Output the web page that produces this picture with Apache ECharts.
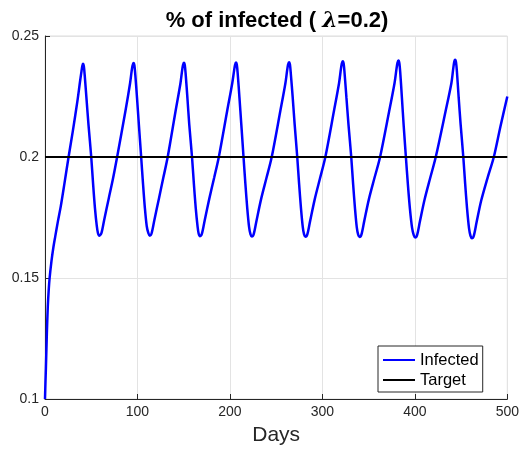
<!DOCTYPE html>
<html>
<head>
<meta charset="utf-8">
<script src="https://cdn.jsdelivr.net/npm/echarts@6/dist/echarts.min.js"></script>
<style>html,body{margin:0;padding:0;background:#fff;}#c{width:522px;height:451px;}</style>
</head>
<body>
<div id="c"></div>
<script>
var xTicks = [0, 100, 200, 300, 400, 500];
var yTicks = [0.1, 0.15, 0.2, 0.25];
var targetLevel = 0.2;
var targetDays = [0, 500];
var infected = [
[0,0.1],[0.5,0.107],[1,0.113],[2,0.127],[3,0.138],[4,0.145],[5,0.15],[7,0.157],[9,0.1625],[11,0.167],[14,0.1735],[17,0.1795],[21,0.189],[25.5,0.2],[30,0.2105],[35,0.223],[38,0.2315],[39.5,0.2355],[40.3,0.2375],[41,0.2385],
[42,0.2375],[43,0.2335],[45,0.2235],[47,0.2135],[50,0.2],[52,0.189],[54,0.179],[56,0.1715],[57.3,0.1685],[58.8,0.1675],[61,0.1685],[64,0.174],[69,0.183],[73.5,0.191],[78,0.2],[87,0.219],[92,0.2305],[93.7,0.2355],[94.7,0.2378],[95.7,0.2388],
[96.7,0.2378],[97.7,0.2338],[99.5,0.2245],[101.5,0.2135],[104,0.2],[106,0.189],[108,0.179],[110,0.1715],[111.8,0.1685],[113.3,0.1675],[115.3,0.1685],[118.3,0.174],[123.3,0.183],[128,0.1915],[132.7,0.2],[141,0.2185],[146.5,0.2305],[148.2,0.2355],[149.2,0.2379],[150.2,0.2389],
[151.2,0.2379],[152.2,0.2339],[154,0.2245],[156,0.2135],[159,0.2],[161,0.189],[163,0.179],[165,0.1713],[166.2,0.1683],[167.7,0.1673],[169.7,0.1683],[172.7,0.1738],[177.7,0.1828],[183,0.1915],[188,0.2],[197,0.219],[202.5,0.2305],[204.5,0.2357],[205.5,0.238],[206.5,0.239],
[207.5,0.238],[208.5,0.234],[210.3,0.2245],[212.3,0.2135],[214.7,0.2],[216.7,0.189],[218.7,0.179],[220.7,0.1711],[222.2,0.1681],[223.7,0.1671],[225.7,0.1681],[228.7,0.1736],[233.7,0.1826],[239.5,0.1913],[245.2,0.2],[254.5,0.219],[260,0.2305],[261.9,0.2359],[262.9,0.2382],[263.9,0.2392],
[264.9,0.2382],[265.9,0.2342],[267.9,0.2245],[270,0.2135],[272.8,0.2],[274.8,0.189],[276.8,0.179],[278.8,0.171],[280.2,0.168],[281.7,0.167],[283.7,0.168],[286.7,0.1735],[291.7,0.1825],[297.5,0.1913],[303.2,0.2],[312.5,0.219],[318,0.2305],[320,0.2363],[321,0.2386],[322,0.2396],
[323,0.2386],[324,0.2346],[326,0.2245],[328.2,0.2135],[331.2,0.2],[333.2,0.189],[335.2,0.179],[337.2,0.1709],[338.7,0.1679],[340.2,0.1669],[342.2,0.1679],[345.2,0.1734],[350.2,0.1824],[356.3,0.1913],[362.4,0.2],[372,0.2185],[378,0.2305],[380.2,0.2366],[381.2,0.2389],[382.2,0.2399],
[383.2,0.2389],[384.2,0.2349],[386,0.2245],[388,0.2125],[390.3,0.2],[392.5,0.1885],[394.7,0.1785],[397,0.1707],[398.8,0.1677],[400.4,0.1667],[402.4,0.1677],[405.4,0.1732],[410.4,0.1822],[416.5,0.1912],[422.6,0.2],[433,0.2185],[439.5,0.2305],[441.5,0.2365],[442.5,0.2392],[443.5,0.2402],
[444.5,0.2392],[445.5,0.2352],[447.4,0.2245],[449.5,0.2135],[452.4,0.2],[454.4,0.189],[456.4,0.179],[458.6,0.1705],[460.2,0.1674],[461.7,0.1664],[463.7,0.1674],[466.7,0.1729],[471.7,0.1819],[478.5,0.1912],[485.4,0.2],[492.5,0.2125],[500,0.225]
];
var target = targetDays.map(function(d){ return [d, targetLevel]; });

var chart = echarts.init(document.getElementById('c'), null, {renderer: 'canvas'});
var font = 'Liberation Sans, Arial, Helvetica, sans-serif';
chart.setOption({
  animation: false,
  backgroundColor: '#fff',
  title: {
    text: '% of infected ( {l|λ}=0.2)',
    left: 272, top: 5, textAlign: 'center',
    textStyle: {
      fontFamily: font, fontSize: 22, fontWeight: 'bold', color: '#000',
      rich: { l: { fontFamily: 'DejaVu Serif, serif', fontStyle: 'italic', fontSize: 22, fontWeight: 'bold', color: '#000' } }
    }
  },
  grid: { left: 45, right: 12, top: 36, bottom: 51, show: true, borderColor: '#dcdcdc', borderWidth: 1 },
  xAxis: {
    type: 'value', min: xTicks[0], max: xTicks[xTicks.length-1], interval: 100,
    name: 'Days', nameLocation: 'middle', nameGap: 26,
    nameTextStyle: { fontFamily: font, fontSize: 21, color: '#262626' },
    axisLine: { show: true, onZero: false, lineStyle: { color: '#262626', width: 1 } },
    axisTick: { show: true, inside: true, length: 5, lineStyle: { color: '#262626' } },
    axisLabel: { fontFamily: font, fontSize: 14, color: '#262626', margin: 6 },
    splitLine: { show: true, lineStyle: { color: '#e3e3e3', width: 1 } }
  },
  yAxis: {
    type: 'value', min: yTicks[0], max: yTicks[yTicks.length-1], interval: 0.05,
    axisLine: { show: true, onZero: false, lineStyle: { color: '#262626', width: 1 } },
    axisTick: { show: true, inside: true, length: 5, lineStyle: { color: '#262626' } },
    axisLabel: { fontFamily: font, fontSize: 14, color: '#262626', margin: 6,
      formatter: function(v){ return String(+v.toFixed(2)); } },
    splitLine: { show: true, lineStyle: { color: '#e3e3e3', width: 1 } }
  },
  legend: {
    orient: 'vertical', left: 378, top: 346,
    backgroundColor: '#fff', borderColor: '#262626', borderWidth: 1, borderRadius: 0,
    padding: [5, 4, 3, 4], itemGap: 2, itemWidth: 32, itemHeight: 18,
    itemStyle: { opacity: 0 },
    textStyle: { fontFamily: font, fontSize: 16.5, color: '#000', lineHeight: 18 },
    data: ['Infected', 'Target']
  },
  series: [
    { name: 'Infected', type: 'line', data: infected, smooth: 0.3, symbol: 'none',
      lineStyle: { color: '#0000ff', width: 2.5 }, itemStyle: { color: '#0000ff' }, z: 3 },
    { name: 'Target', type: 'line', data: target, symbol: 'none',
      lineStyle: { color: '#000', width: 2.2 }, itemStyle: { color: '#000' }, z: 4 }
  ]
});
</script>
</body>
</html>
